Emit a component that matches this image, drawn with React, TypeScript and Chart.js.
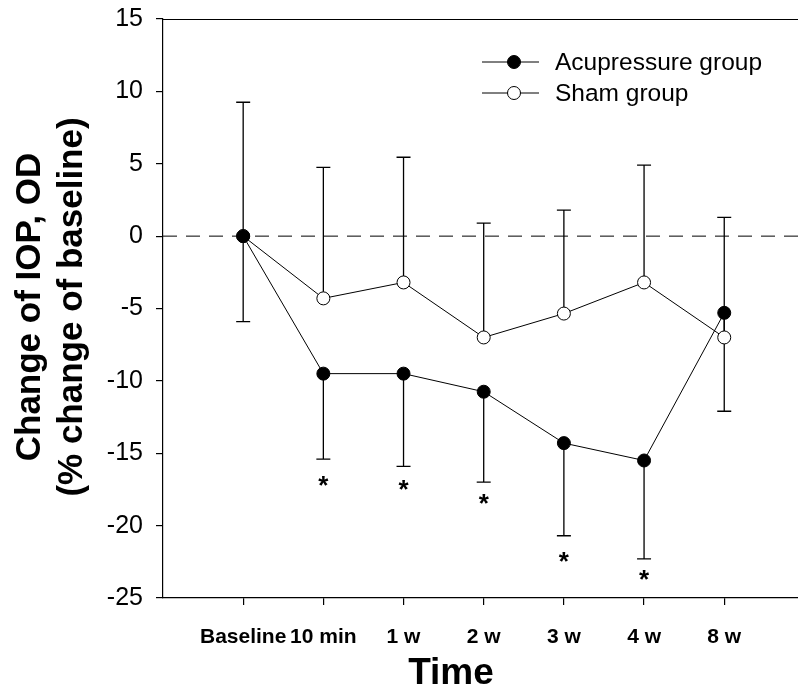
import React, { useEffect, useRef } from "react";
import { Chart, registerables } from "chart.js";

Chart.register(...registerables);

const categories = ["Baseline", "10 min", "1 w", "2 w", "3 w", "4 w", "8 w"];
const acupressure = [0, -9.5, -9.5, -10.75, -14.3, -15.5, -5.3];
const acupressureLower = [-5.9, -15.4, -15.9, -17.0, -20.7, -22.3, -12.1];
const sham = [0, -4.3, -3.2, -7.0, -5.35, -3.2, -7.0];
const shamUpper = [9.25, 4.75, 5.45, 0.9, 1.8, 4.9, 1.3];
const significanceY = [null, -17.1, -17.4, -18.4, -22.4, -23.6, null];
const yTicks = [15, 10, 5, 0, -5, -10, -15, -20, -25];
const referenceLine = 0;

const FONT = "'Liberation Sans', Arial, Helvetica, sans-serif";

export default function App() {
  const ref = useRef<HTMLCanvasElement | null>(null);

  useEffect(() => {
    document.body.style.margin = "0";
    const canvas = ref.current;
    if (!canvas) return;

    const overlay = {
      id: "overlay",
      beforeDatasetsDraw(chart: any) {
        const { ctx, chartArea, scales } = chart;
        const xs = scales.x;
        const ys = scales.y;
        ctx.save();
        // top frame
        ctx.strokeStyle = "#000";
        ctx.lineWidth = 1.2;
        ctx.beginPath();
        ctx.moveTo(chartArea.left, chartArea.top + 0.5);
        ctx.lineTo(chartArea.right, chartArea.top + 0.5);
        ctx.stroke();
        // dashed reference line
        ctx.setLineDash([14, 9]);
        ctx.lineWidth = 1;
        const y0 = ys.getPixelForValue(referenceLine);
        ctx.beginPath();
        ctx.moveTo(chartArea.left, y0);
        ctx.lineTo(chartArea.right, y0);
        ctx.stroke();
        ctx.setLineDash([]);
        // error bars
        ctx.lineWidth = 1.3;
        const cap = 7;
        categories.forEach((_, i) => {
          const px = xs.getPixelForValue(i);
          const a = ys.getPixelForValue(acupressure[i]);
          const al = ys.getPixelForValue(acupressureLower[i]);
          ctx.beginPath();
          ctx.moveTo(px, a);
          ctx.lineTo(px, al);
          ctx.moveTo(px - cap, al);
          ctx.lineTo(px + cap, al);
          ctx.stroke();
          const s = ys.getPixelForValue(sham[i]);
          const su = ys.getPixelForValue(shamUpper[i]);
          ctx.beginPath();
          ctx.moveTo(px, s);
          ctx.lineTo(px, su);
          ctx.moveTo(px - cap, su);
          ctx.lineTo(px + cap, su);
          ctx.stroke();
        });
        ctx.restore();
      },
      afterDatasetsDraw(chart: any) {
        const { ctx, chartArea, scales } = chart;
        const xs = scales.x;
        const ys = scales.y;
        ctx.save();
        // asterisks
        ctx.fillStyle = "#000";
        ctx.font = `bold 26px ${FONT}`;
        ctx.textAlign = "center";
        ctx.textBaseline = "alphabetic";
        significanceY.forEach((v, i) => {
          if (v === null) return;
          const px = xs.getPixelForValue(i);
          const py = ys.getPixelForValue(v);
          ctx.fillText("*", px, py + 10);
        });
        // legend
        const items = [
          { label: "Acupressure group", fill: "#000" },
          { label: "Sham group", fill: "#fff" },
        ];
        ctx.font = `24.5px ${FONT}`;
        ctx.textAlign = "left";
        ctx.textBaseline = "middle";
        items.forEach((it, k) => {
          const ly = chartArea.top + 43 + k * 31;
          const lx = chartArea.left + 319;
          ctx.strokeStyle = "#000";
          ctx.lineWidth = 1;
          ctx.beginPath();
          ctx.moveTo(lx, ly);
          ctx.lineTo(lx + 57, ly);
          ctx.stroke();
          ctx.beginPath();
          ctx.arc(lx + 32, ly, 6.5, 0, Math.PI * 2);
          ctx.fillStyle = it.fill;
          ctx.fill();
          ctx.stroke();
          ctx.fillStyle = "#000";
          ctx.fillText(it.label, lx + 73, ly + 1);
        });
        // axis titles
        ctx.font = `bold 37px ${FONT}`;
        ctx.textAlign = "center";
        ctx.textBaseline = "middle";
        ctx.fillText("Time", 451, 674);
        ctx.save();
        ctx.translate(0, 307);
        ctx.rotate(-Math.PI / 2);
        ctx.textBaseline = "alphabetic";
        ctx.font = `bold 35px ${FONT}`;
        ctx.fillText("Change of IOP, OD", 0, 40);
        ctx.fillText("(% change of baseline)", 0, 82);
        ctx.restore();
        ctx.restore();
      },
    };

    const chart = new Chart(canvas, {
      type: "scatter",
      data: {
        datasets: [
          {
            label: "Acupressure group",
            data: acupressure.map((v, i) => ({ x: i, y: v })),
            showLine: true,
            borderColor: "#000",
            borderWidth: 1,
            pointRadius: 6.5,
            pointBackgroundColor: "#000",
            pointBorderColor: "#000",
            pointBorderWidth: 1,
          },
          {
            label: "Sham group",
            data: sham.map((v, i) => ({ x: i, y: v })),
            showLine: true,
            borderColor: "#000",
            borderWidth: 1,
            pointRadius: 6.5,
            pointBackgroundColor: "#fff",
            pointBorderColor: "#000",
            pointBorderWidth: 1,
          },
        ],
      },
      options: {
        animation: false,
        responsive: false,
        maintainAspectRatio: false,
        layout: { autoPadding: false, padding: { left: 0, top: 19, right: 0, bottom: 0 } },
        plugins: { legend: { display: false }, tooltip: { enabled: false } },
        scales: {
          x: {
            type: "linear",
            min: -1,
            max: 6.92,
            afterFit: (s: any) => {
              s.height = 102;
              s.paddingLeft = 0;
              s.paddingRight = 0;
            },
            afterBuildTicks: (s: any) => {
              s.ticks = categories.map((_, i) => ({ value: i }));
            },
            ticks: {
              autoSkip: false,
              maxRotation: 0,
              padding: 20,
              color: "#000",
              font: { family: FONT, size: 21, weight: "bold" },
              callback: (v: any) => categories[v] ?? "",
            },
            grid: {
              drawOnChartArea: false,
              drawTicks: true,
              tickLength: 7,
              color: "#000",
              lineWidth: 1.2,
            },
            border: { display: true, color: "#000", width: 1.2 },
          },
          y: {
            min: -25,
            max: 15,
            afterFit: (s: any) => {
              s.width = 163;
              s.paddingTop = 0;
              s.paddingBottom = 0;
            },
            afterBuildTicks: (s: any) => {
              s.ticks = yTicks.map((v) => ({ value: v }));
            },
            ticks: {
              padding: 13,
              color: "#000",
              font: { family: FONT, size: 25 },
            },
            grid: {
              drawOnChartArea: false,
              drawTicks: true,
              tickLength: 7,
              color: "#000",
              lineWidth: 1.2,
            },
            border: { display: true, color: "#000", width: 1.2 },
          },
        },
      },
      plugins: [overlay],
    });
    return () => chart.destroy();
  }, []);

  return (
    <div style={{ width: 798, height: 700, background: "#fff" }}>
      <canvas ref={ref} width={798} height={700} style={{ display: "block" }} />
    </div>
  );
}
